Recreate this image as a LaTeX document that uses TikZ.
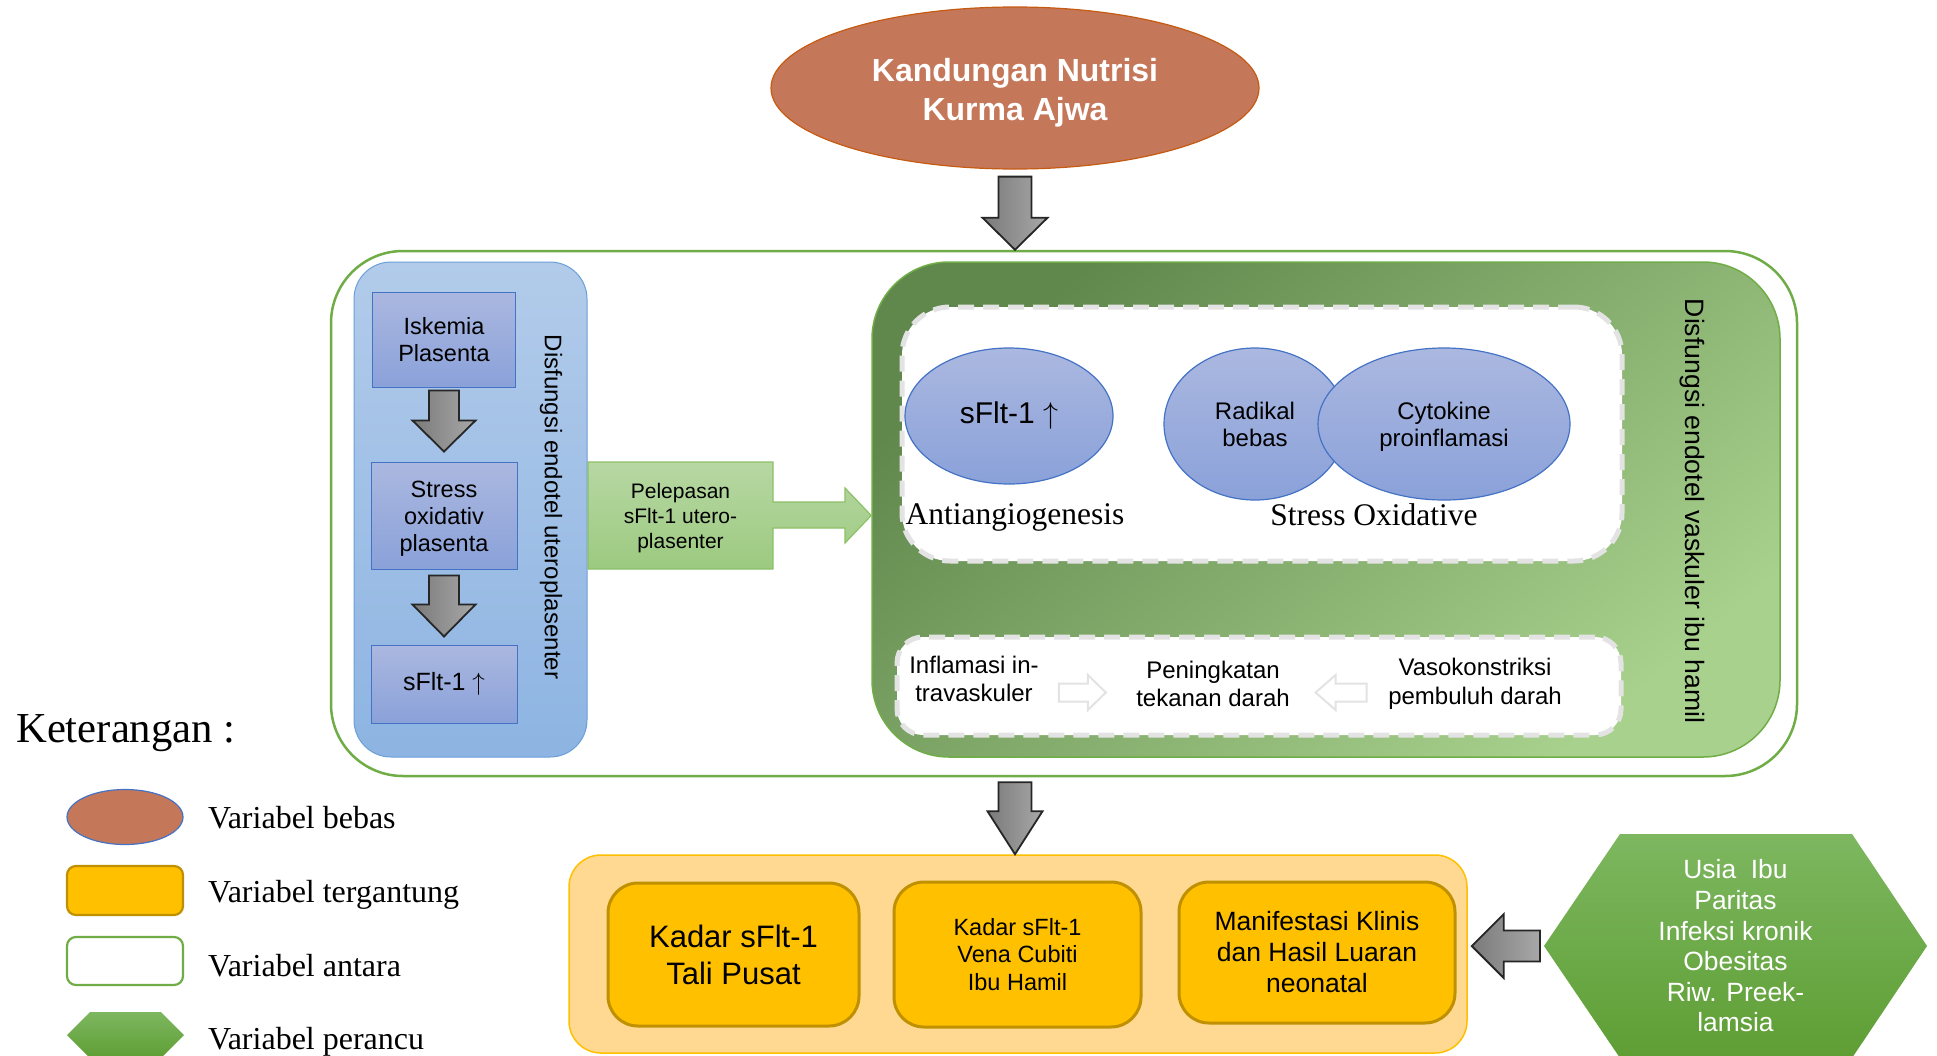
\RequirePackage{fix-cm}
\documentclass[tikz,border=0pt]{standalone}
\usepackage{fontspec}
\setmainfont{Liberation Sans}
\newfontfamily\tnr{Liberation Serif}
\usetikzlibrary{shapes.geometric,calc}
\definecolor{terra}{HTML}{C5775A}
\definecolor{terraB}{HTML}{C55A11}
\definecolor{grn}{HTML}{70AD47}
\definecolor{bluePanTop}{HTML}{B2CBEA}
\definecolor{bluePanBot}{HTML}{8DB4E2}
\definecolor{bluePanB}{HTML}{6A9FD8}
\definecolor{boxTop}{HTML}{ABB8E0}
\definecolor{boxBot}{HTML}{8AA1D9}
\definecolor{boxB}{HTML}{4472C4}
\definecolor{dgTL}{HTML}{60884D}
\definecolor{dgBR}{HTML}{A8D18D}
\definecolor{dashc}{HTML}{E3E3E3}
\definecolor{lgTop}{HTML}{B7D7A3}
\definecolor{lgBot}{HTML}{9CCA80}
\definecolor{grnArrB}{HTML}{8CC168}
\definecolor{orPan}{HTML}{FFD991}
\definecolor{gold}{HTML}{FFC000}
\definecolor{goldB}{HTML}{BF9000}
\definecolor{hexTop}{HTML}{7DB760}
\definecolor{hexBot}{HTML}{5E9E34}
\definecolor{arrL}{HTML}{7A7A7A}
\definecolor{arrR}{HTML}{A8A8A8}
\definecolor{arrB}{HTML}{262626}
\newcommand{\fsz}[2]{\fontsize{#1}{#2}\selectfont}
\newcommand{\upar}{$\uparrow$}
% [style] tail, tip, half shaft, half head, head length
\newcommand{\blockarrow}[6][blockarr]{%
  \coordinate (hb) at ($(#3)!#6pt!(#2)$);
  \draw[#1] ($(#2)!#4pt!90:(#3)$) -- ($(hb)!#4pt!90:(#3)$) -- ($(hb)!#5pt!90:(#3)$) -- (#3)
    -- ($(hb)!#5pt!-90:(#3)$) -- ($(hb)!#4pt!-90:(#3)$) -- ($(#2)!#4pt!-90:(#3)$) -- cycle;}
\tikzset{
  blockarr/.style={draw=arrB, line width=1.8, left color=arrL, right color=arrR, line join=miter},
  whitearr/.style={draw=dashc, line width=2, fill=white},
  bluebox/.style={draw=boxB, line width=1, top color=boxTop, bottom color=boxBot, inner sep=0, align=center, font=\fsz{23.5}{27}},
  ovalblue/.style={ellipse, draw=boxB, line width=1.2, top color=boxTop, bottom color=boxBot, inner sep=0, align=center},
  goldbox/.style={draw=goldB, line width=3, fill=gold, rounded corners=30, inner sep=0, align=center},
  dashbox/.style={draw=dashc, line width=5, dash pattern=on 16pt off 9pt, fill=white, inner sep=0},
  lbl/.style={inner sep=0, align=center},
  legtext/.style={anchor=base west, inner sep=0, font=\tnr\fsz{32}{36}},
}
\begin{document}
\begin{tikzpicture}[x=1pt,y=-1pt]
\fill[white] (0,0) rectangle (1937,1055);
\useasboundingbox (0,0) rectangle (1937,1055);

% independent variable
\node[ellipse, minimum width=488, minimum height=162, inner sep=0, fill=terra, draw=terraB, line width=1.2] (kand) at (1015,88) {};
\node[lbl, text=white, font=\bfseries\fsz{32}{39}] (kandt) at ($(kand.center)+(0,5)$) {Kandungan Nutrisi\\Kurma Ajwa};

% intermediate frame
\node[draw=grn, line width=2.5, fill=white, rounded corners=72, minimum width=1466, minimum height=525, inner sep=0] (outer) at (1064,513.5) {};

\coordinate (a0t) at ($(kand.south)+(0,7)$);
\coordinate (a0p) at (kand.south |- outer.north);
\blockarrow{a0t}{a0p}{16.5}{32.5}{32}

% blue panel
\node[draw=bluePanB, line width=1, top color=bluePanTop, bottom color=bluePanBot, rounded corners=37,
      minimum width=233, minimum height=495, inner sep=0] (bpan) at (470.5,509.5) {};
\node[bluebox, minimum width=143, minimum height=95] (isk) at (444,339.5) {Iskemia\\Plasenta};
\node[bluebox, minimum width=146, minimum height=107] (str) at (444,515.5) {};
\node[lbl, font=\fsz{23.5}{27}] (strt) at ($(str.center)+(0,3.5)$) {Stress\\oxidativ\\plasenta};
\node[bluebox, minimum width=146, minimum height=78, font=\fsz{25}{28}] (sfb) at (444,684) {sFlt-1 \upar};
\coordinate (a1t) at ($(isk.south)+(0,3)$);
\coordinate (a1p) at ($(str.north)+(0,-10)$);
\blockarrow{a1t}{a1p}{15}{31.5}{31}
\coordinate (a2t) at ($(str.south)+(0,6)$);
\coordinate (a2p) at ($(sfb.north)+(0,-8)$);
\blockarrow{a2t}{a2p}{15}{31.5}{32}
\node[rotate=-90, lbl, font=\fsz{24}{28}] (lvt) at (551,507) {Disfungsi endotel uteroplasenter};

% dark green panel
\node[draw=grn, line width=1.5, top color=dgTL, bottom color=dgBR, shading angle=40, rounded corners=77,
      minimum width=908, minimum height=495, inner sep=0] (dg) at (1326,509.5) {};

% green release arrow
\coordinate (pc) at (680.5,515.5);
\draw[draw=grnArrB, line width=1.2, top color=lgTop, bottom color=lgBot]
  (588,462) -- (773,462) -- (773,502) -- (845,502) -- (845,488) -- (pc -| dg.west)
  -- (845,543) -- (845,528) -- (773,528) -- (773,569) -- (588,569) -- cycle;
\node[lbl, font=\fsz{21}{25}] (pel) at ($(pc)+(0,2.5)$) {Pelepasan\\sFlt-1 utero-\\plasenter};

% dashed boxes
\node[dashbox, rounded corners=48, minimum width=720, minimum height=254] (dtop) at (1262,434) {};
\node[dashbox, rounded corners=26, minimum width=724, minimum height=98] (dbot) at (1259,686) {};

% ellipses
\node[ovalblue, minimum width=208, minimum height=136, font=\fsz{30}{34}] (sfe) at (1009,416) {sFlt-1 \upar};
\node[ovalblue, minimum width=182, minimum height=152, font=\fsz{24}{27}] (rad) at (1255,424) {Radikal\\bebas};
\node[ovalblue, minimum width=252, minimum height=152] (cyt) at (1444,424) {};
\node[lbl, font=\fsz{24}{27}] (cytt) at ($(cyt.center)+(0,3)$) {Cytokine\\proinflamasi};
\node[lbl, font=\tnr\fsz{31.5}{36}] (anti) at (1015,517) {Antiangiogenesis};
\node[lbl, font=\tnr\fsz{31.5}{36}] (sox) at (1374,515) {Stress Oxidative};

% lower row
\node[lbl, font=\fsz{24}{28.5}] (inf) at (974,679) {Inflamasi in-\\travaskuler};
\node[lbl, font=\fsz{24}{28.5}] (pen) at (1213,684) {Peningkatan\\tekanan darah};
\node[lbl, font=\fsz{24}{28.5}] (vas) at (1475,684) {Vasokonstriksi\\pembuluh darah};
\coordinate (w1t) at ($(inf.east)+(20,13.5)$);
\coordinate (w1p) at ($(w1t)+(47,0)$);
\blockarrow[whitearr]{w1t}{w1p}{9}{17.5}{18}
\coordinate (w2t) at ($(vas.west)+(-21.5,8.5)$);
\coordinate (w2p) at ($(w2t)+(-51,0)$);
\blockarrow[whitearr]{w2t}{w2p}{9}{17.5}{20}

\node[rotate=-90, lbl, font=\fsz{26.6}{30}] (rvt) at (1692,511) {Disfungsi endotel vaskuler ibu hamil};

% dependent variables
\node[fill=orPan, draw=gold, line width=1.5, rounded corners=32, minimum width=898, minimum height=198, inner sep=0] (orp) at (1018,954) {};
\coordinate (a3t) at ($(kand.south |- outer.south)+(0,5)$);
\coordinate (a3p) at (kand.south |- orp.north);
\blockarrow{a3t}{a3p}{16.5}{27.5}{43}
\node[goldbox, minimum width=251, minimum height=143, font=\fsz{31}{37}] (g1) at (733.5,954.5) {Kadar sFlt-1\\Tali Pusat};
\node[goldbox, minimum width=247, minimum height=145, font=\fsz{23.5}{27.5}] (g2) at (1017.5,954.5) {Kadar sFlt-1\\Vena Cubiti\\Ibu Hamil};
\node[goldbox, minimum width=276, minimum height=141, font=\fsz{26.5}{31}] (g3) at (1317,952.5) {Manifestasi Klinis\\dan Hasil Luaran\\neonatal};

% confounders
\path[top color=hexTop, bottom color=hexBot] (1544,946) -- (1620,834) -- (1852,834) -- (1927,946) -- (1852,1058) -- (1620,1058) -- cycle;
\coordinate (hexw) at (1544,946);
\node[lbl, text=white, font=\fsz{26.4}{30.6}] (hex) at (1735.5,946) {Usia\ \ Ibu\\Paritas\\Infeksi kronik\\Obesitas\\Riw. Preek-\\lamsia};
\coordinate (a4t) at ($(hexw)+(-4,0)$);
\coordinate (a4p) at ($(hexw -| orp.east)+(4,0)$);
\blockarrow{a4t}{a4p}{15.5}{32}{32}

% legend
\node[anchor=base west, inner sep=0, font=\tnr\fsz{42.7}{48}] (ket) at (16,742) {Keterangan :};
\node[ellipse, minimum width=116, minimum height=55, inner sep=0, fill=terra, draw=boxB, line width=1.2] (lg1) at (125,817) {};
\node[rounded corners=9, minimum width=116, minimum height=49, inner sep=0, fill=gold, draw=goldB, line width=2.2] (lg2) at (125,890.5) {};
\node[rounded corners=9, minimum width=116, minimum height=48, inner sep=0, fill=white, draw=grn, line width=2.2] (lg3) at (125,961) {};
\path[top color=hexTop, bottom color=hexBot] (67,1035) -- (90,1012) -- (161,1012) -- (184,1035) -- (161,1058) -- (90,1058) -- cycle;
\node[legtext] (lt1) at (208,828) {Variabel bebas};
\node[legtext] (lt2) at (208,902) {Variabel tergantung};
\node[legtext] (lt3) at (208,976) {Variabel antara};
\node[legtext] (lt4) at (208,1049) {Variabel perancu};
\end{tikzpicture}
\end{document}
